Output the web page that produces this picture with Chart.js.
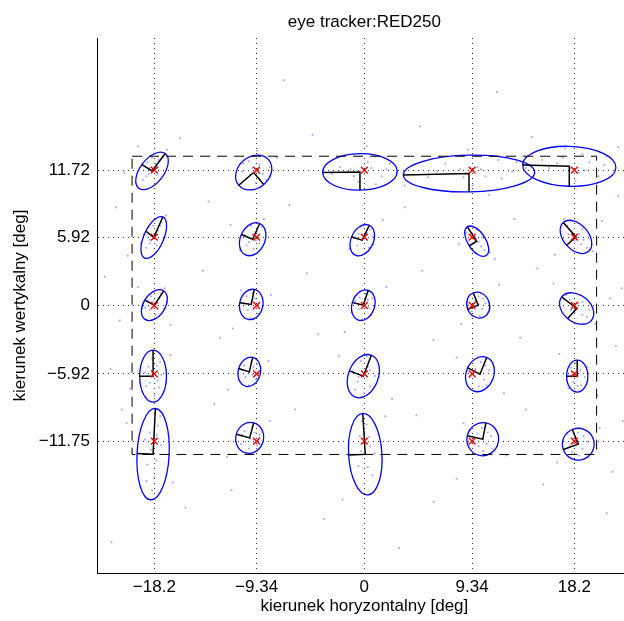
<!DOCTYPE html>
<html>
<head>
<meta charset="utf-8">
<script src="https://cdn.jsdelivr.net/npm/chart.js@4"></script>
<style>
  html, body { margin: 0; padding: 0; background: #fff; overflow: hidden; }
  #wrap { width: 624px; height: 621px; overflow: hidden; }
</style>
</head>
<body>
<div id="wrap"><canvas id="c" width="640" height="621"></canvas></div>
<script>
// target grid (deg)
const xTicks = [-18.2, -9.34, 0, 9.34, 18.2];
const yTicks = [11.72, 5.92, 0, -5.92, -11.75];
const xTickLabels = ['\u221218.2', '\u22129.34', '0', '9.34', '18.2'];
const yTickLabels = ['11.72', '5.92', '0', '\u22125.92', '\u221211.75'];

// dashed frame
const frameX = [-20.13, 20.13];
const frameY = [-12.9, 12.93];

// fitted ellipses: centre and the ends of the two drawn half-axes
const ellipseCenters = [
  [-18.40, 11.66], [-9.59, 11.52], [-0.38, 11.57], [9.07, 11.43], [17.76, 12.06],
  [-18.25, 5.89], [-9.68, 5.74], [-0.18, 5.66], [9.74, 5.57], [18.34, 5.94],
  [-18.20, 0.03], [-9.80, 0.09], [-0.09, 0.03], [9.87, 0.03], [18.40, -0.26],
  [-18.31, -6.12], [-9.97, -5.75], [-0.09, -6.12], [10.02, -5.95], [18.45, -6.12],
  [-18.31, -12.88], [-9.94, -11.47], [0.08, -12.88], [10.26, -11.58], [18.54, -12.01]
];
const axisEndA = [
  [-17.25, 13.16], [-10.89, 10.42], [-3.61, 11.52], [3.38, 11.31], [13.72, 12.18],
  [-17.47, 7.67], [-9.07, 7.10], [0.43, 6.95], [8.92, 6.81], [17.24, 7.19],
  [-17.39, 1.26], [-9.54, 1.39], [0.34, 1.32], [9.44, 1.09], [17.10, 0.74],
  [-18.31, -3.87], [-9.68, -4.50], [0.61, -4.31], [10.60, -4.50], [18.45, -4.74],
  [-18.11, -8.92], [-9.59, -10.17], [-0.14, -9.35], [10.54, -10.17], [18.02, -10.74]
];
const axisEndB = [
  [-19.27, 12.21], [-8.72, 10.48], [-0.38, 9.99], [9.07, 9.84], [17.76, 10.33],
  [-18.92, 6.43], [-10.66, 6.15], [-1.10, 5.94], [9.09, 5.16], [17.53, 5.22],
  [-19.03, 0.46], [-10.80, 0.23], [-1.04, 0.26], [8.96, -0.32], [17.62, -1.13],
  [-19.47, -6.12], [-10.89, -5.46], [-1.30, -5.66], [8.96, -5.40], [17.53, -6.12],
  [-19.70, -12.82], [-11.10, -11.15], [-1.36, -12.96], [8.92, -11.29], [17.24, -12.47]
];

// raw gaze samples (approximate)
const gazePoints = [
  [-18.9,11.2],[-18.1,12.3],[-17.8,12.6],[-18.6,11.9],[-19.2,10.9],[-18.0,11.3],[-17.5,12.9],[-18.8,12.4],[-19.6,13.8],[-20.8,11.5],
  [-18.3,11.8],[-17.9,12.0],[-18.7,11.4],[-18.4,12.8],[-17.1,13.5],
  [-9.1,12.2],[-10.2,11.0],[-9.4,10.6],[-8.8,11.4],[-10.0,12.5],[-9.7,11.9],[-8.5,10.9],[-10.6,11.6],[-9.3,13.4],[-7.6,12.8],
  [-9.9,11.3],[-9.2,11.8],[-10.5,12.3],[-9.0,10.2],[-8.2,12.0],
  [0.6,11.9],[1.5,11.2],[-1.2,11.8],[0.3,12.4],[2.2,12.3],[-0.5,10.7],[1.0,10.5],[-2.1,12.0],[0.2,13.8],[3.5,10.4],
  [-0.9,11.2],[1.9,11.8],[-2.8,11.4],[0.9,12.9],[2.8,11.5],
  [9.8,12.0],[10.5,11.2],[8.3,11.8],[7.0,12.3],[11.6,12.6],[9.4,10.4],[5.5,11.1],[12.8,11.6],[9.0,13.5],[10.8,9.6],[14.0,11.9],
  [8.6,11.1],[10.1,11.8],[6.3,11.6],[11.9,11.0],[13.2,12.4],
  [18.6,11.5],[19.5,12.4],[17.2,12.8],[16.0,11.9],[20.3,11.2],[18.9,13.1],[15.4,12.6],[21.0,12.9],[18.3,10.8],[22.0,13.7],
  [17.9,11.9],[19.1,11.7],[16.7,12.3],[20.8,12.2],[17.4,13.6],
  [-18.6,5.4],[-17.9,6.5],[-18.3,6.9],[-17.6,7.2],[-18.9,5.0],[-18.0,5.2],[-19.1,6.2],[-17.4,5.8],[-20.5,4.3],
  [-18.2,6.1],[-17.7,6.9],[-18.6,5.7],[-17.2,7.8],[-19.4,5.4],
  [-9.3,6.4],[-10.2,5.2],[-9.8,6.9],[-9.1,5.4],[-10.4,6.1],[-9.6,4.9],[-8.9,6.8],[-11.6,7.0],
  [-9.7,6.1],[-9.4,5.6],[-10.0,5.5],[-8.7,7.5],[-10.8,4.8],
  [0.2,6.3],[-0.6,5.2],[0.4,5.0],[-0.3,6.8],[0.7,6.0],[-0.9,5.9],[0.1,4.6],[1.6,7.4],
  [-0.1,5.9],[0.5,6.6],[-0.5,6.2],[0.8,5.3],[-1.3,4.9],
  [9.3,6.3],[10.1,5.1],[9.6,6.0],[10.4,4.8],[9.0,6.8],[9.9,5.5],[11.3,4.0],[8.2,5.3],
  [9.7,5.8],[9.4,5.4],[10.2,5.9],[8.8,6.3],[10.9,4.6],
  [18.8,5.3],[17.9,6.5],[18.6,6.2],[19.3,5.0],[17.6,6.9],[18.2,5.6],[19.8,4.7],[20.6,7.3],[16.5,4.4],
  [18.4,5.9],[17.7,6.2],[19.0,5.7],[18.9,6.6],[17.3,7.5],
  [-18.6,-0.4],[-17.8,0.7],[-18.3,0.3],[-19.0,-0.2],[-17.6,1.0],[-18.1,-0.8],[-19.6,1.6],[-21.2,-1.3],[-16.8,-1.7],
  [-18.2,0.1],[-18.5,0.8],[-17.9,-0.3],[-18.8,0.4],[-17.3,1.5],
  [-9.5,0.6],[-10.1,-0.4],[-9.7,1.1],[-10.4,0.2],[-9.2,-0.7],[-9.9,-1.1],[-8.1,0.9],[-11.4,-2.0],
  [-9.8,0.3],[-9.4,0.1],[-10.2,0.8],[-9.6,-0.3],[-10.7,1.3],
  [0.3,0.5],[-0.5,-0.3],[0.1,1.0],[-0.8,0.4],[0.6,-0.8],[-0.2,-1.2],[1.9,1.6],[-1.7,-2.3],
  [-0.1,0.2],[0.4,-0.2],[-0.4,0.7],[0.7,0.6],[-1.1,-0.6],
  [9.6,0.4],[10.2,-0.3],[9.9,0.8],[10.5,0.2],[9.3,-0.5],[10.0,-0.9],[11.7,1.8],[8.4,-1.6],
  [9.9,0.1],[10.3,0.6],[9.5,-0.1],[10.7,-0.6],[9.1,0.9],
  [18.9,-0.8],[17.8,0.5],[18.5,0.2],[19.3,-1.0],[17.5,0.9],[18.2,-0.6],[20.0,-1.6],[16.4,1.9],[21.3,0.6],
  [18.4,-0.2],[18.9,0.3],[17.9,-0.4],[19.5,-0.4],[18.7,0.9],
  [-18.0,-5.2],[-18.6,-6.7],[-17.8,-7.1],[-18.4,-4.6],[-19.0,-5.8],[-17.6,-6.0],[-18.2,-7.8],[-20.3,-7.2],[-16.8,-4.3],
  [-18.3,-6.0],[-18.7,-5.3],[-17.9,-6.5],[-18.9,-7.0],[-17.7,-4.9],
  [-9.6,-5.3],[-10.3,-6.2],[-9.8,-4.9],[-10.6,-5.6],[-9.4,-6.4],[-10.0,-6.9],[-8.3,-4.8],[-11.8,-7.3],
  [-10.0,-5.8],[-9.7,-6.0],[-10.4,-5.2],[-9.3,-5.1],[-10.9,-6.5],
  [0.3,-5.3],[-0.6,-6.6],[0.5,-7.0],[-0.3,-4.8],[0.9,-6.1],[-1.0,-5.7],[0.0,-7.6],[-2.2,-4.4],[2.4,-8.1],
  [-0.1,-6.1],[0.5,-5.6],[-0.5,-6.2],[0.2,-4.4],[-0.8,-7.3],
  [9.6,-5.5],[10.4,-6.4],[10.1,-4.9],[9.2,-6.2],[10.8,-5.6],[9.9,-7.0],[8.0,-4.5],[12.1,-7.6],
  [10.0,-5.9],[10.5,-5.2],[9.5,-5.8],[10.6,-6.9],[9.0,-5.3],
  [18.7,-5.6],[18.1,-6.6],[18.5,-7.0],[19.1,-6.2],[17.9,-5.4],[18.3,-5.0],[20.2,-7.8],[16.9,-4.2],
  [18.5,-6.1],[18.8,-6.9],[18.0,-6.0],[19.3,-5.3],[17.7,-7.2],
  [-18.0,-11.2],[-18.5,-12.5],[-17.9,-10.4],[-18.8,-13.8],[-18.2,-14.9],[-17.6,-12.1],[-19.0,-11.6],[-18.4,-16.0],[-20.6,-10.2],[-16.6,-15.3],
  [-18.3,-12.9],[-18.6,-11.0],[-18.0,-13.4],[-17.7,-9.6],[-18.9,-15.2],
  [-9.5,-11.0],[-10.3,-11.8],[-9.7,-10.5],[-10.6,-11.2],[-9.3,-12.1],[-10.0,-12.4],[-8.2,-10.0],[-11.9,-13.1],
  [-9.9,-11.5],[-9.6,-11.6],[-10.4,-10.9],[-9.1,-11.2],[-10.7,-12.0],
  [0.4,-11.4],[-0.3,-12.6],[0.2,-10.3],[-0.5,-13.9],[0.7,-14.7],[-0.1,-11.9],[0.9,-12.8],[-0.6,-15.8],[1.8,-9.6],[-1.9,-16.8],
  [0.1,-12.9],[0.5,-12.2],[-0.4,-11.3],[0.3,-14.0],[-0.2,-10.0],
  [9.8,-11.1],[10.6,-12.0],[10.2,-10.6],[9.4,-11.9],[11.0,-11.3],[10.3,-12.6],[8.6,-10.2],[12.3,-13.0],
  [10.3,-11.6],[10.7,-11.0],[9.9,-12.2],[11.1,-12.4],[9.2,-10.8],
  [18.2,-11.5],[18.9,-12.4],[18.5,-11.0],[17.8,-12.2],[19.3,-11.8],[18.6,-13.0],[20.4,-10.6],[16.7,-13.6],[21.5,-14.4],
  [18.5,-12.0],[19.0,-11.3],[18.0,-12.7],[19.4,-12.9],[17.6,-11.1],
  [-21.5,8.5],[-13.5,9.0],[-4.5,14.8],[4.8,15.5],[14.5,14.6],[22.0,9.5],[-22.5,2.5],[-14.0,3.0],[-4.0,-2.5],[5.0,3.0],
  [13.5,-2.8],[21.8,-3.5],[-21.0,-9.0],[-13.0,-8.5],[4.5,-9.5],[14.0,-9.0],[-15.5,-17.5],[-3.5,-18.5],[6.0,-17.0],
  [21.0,-18.0],[-21.9,-20.5],[-7.0,19.5],[11.5,18.5],[3.0,-21.0],
  [-16.0,14.5],[-6.5,8.7],[3.5,8.5],[13.0,7.5],[22.3,1.5],[-12.5,-2.8],[-5.0,2.8],[6.0,-3.0],[15.0,3.2],[-22.0,-5.5],
  [-6.0,-9.0],[8.0,-15.0],[15.5,-15.5],[-11.5,-16.0],[22.4,-10.0]
];

const AX_MIN = -23.17, AX_MAX = 23.17;

const targets = [];
yTicks.forEach(ty => xTicks.forEach(tx => targets.push({ x: tx, y: ty })));

const axisLines = [];
ellipseCenters.forEach((c, i) => {
  axisLines.push({ x: axisEndA[i][0], y: axisEndA[i][1] });
  axisLines.push({ x: c[0], y: c[1] });
  axisLines.push({ x: axisEndB[i][0], y: axisEndB[i][1] });
  axisLines.push({ x: c[0], y: null });
});

const frame = [
  { x: frameX[0], y: frameY[1] }, { x: frameX[1], y: frameY[1] },
  { x: frameX[1], y: frameY[0] }, { x: frameX[0], y: frameY[0] },
  { x: frameX[0], y: frameY[1] }
];

// ellipses drawn right after the gaze samples
const ellipsePlugin = {
  id: 'ellipses',
  afterDatasetDraw(chart, args) {
    if (args.index !== 0) return;
    const { ctx, chartArea, scales: { x, y } } = chart;
    ctx.save();
    ctx.beginPath();
    ctx.rect(chartArea.left, chartArea.top, chartArea.right - chartArea.left, chartArea.bottom - chartArea.top);
    ctx.clip();
    ctx.strokeStyle = '#0000ff';
    ctx.lineWidth = 1.3;
    ellipseCenters.forEach((c, i) => {
      const cx = x.getPixelForValue(c[0]);
      const cy = y.getPixelForValue(c[1]);
      const ax = x.getPixelForValue(axisEndA[i][0]) - cx;
      const ay = y.getPixelForValue(axisEndA[i][1]) - cy;
      const bx = x.getPixelForValue(axisEndB[i][0]) - cx;
      const by = y.getPixelForValue(axisEndB[i][1]) - cy;
      ctx.beginPath();
      ctx.ellipse(cx, cy, Math.hypot(ax, ay), Math.hypot(bx, by), Math.atan2(ay, ax), 0, Math.PI * 2);
      ctx.stroke();
    });
    ctx.restore();
  }
};

Chart.defaults.font.family = "'Liberation Sans', Arial, sans-serif";
Chart.defaults.font.size = 17;
Chart.defaults.color = '#000';

new Chart(document.getElementById('c'), {
  type: 'scatter',
  data: {
    datasets: [
      {
        data: gazePoints.map(p => ({ x: p[0], y: p[1] })),
        pointRadius: 1,
        pointBorderWidth: 0,
        pointBackgroundColor: 'rgba(70,70,255,0.5)',
        order: 5
      },
      {
        data: frame,
        showLine: true,
        borderColor: '#000',
        borderWidth: 1,
        borderDash: [10, 7],
        pointRadius: 0,
        order: 4
      },
      {
        data: axisLines,
        showLine: true,
        spanGaps: false,
        borderColor: '#000',
        borderWidth: 1.5,
        pointRadius: 0,
        order: 2
      },
      {
        data: targets,
        pointStyle: 'crossRot',
        pointRadius: 4.8,
        pointBorderColor: '#ff0000',
        pointBorderWidth: 1.4,
        order: 1
      }
    ]
  },
  options: {
    responsive: false,
    devicePixelRatio: 1,
    animation: false,
    layout: { padding: { left: 0, right: 8.3, top: 0, bottom: 0 } },
    plugins: {
      legend: { display: false },
      tooltip: { enabled: false },
      title: {
        display: true,
        fullSize: false,
        text: 'eye tracker:RED250',
        color: '#000',
        font: { size: 17, weight: 'normal' },
        padding: { top: 11.8, bottom: 5.8 }
      }
    },
    scales: {
      x: {
        type: 'linear',
        min: AX_MIN,
        max: AX_MAX,
        afterBuildTicks: axis => { axis.ticks = xTicks.map(v => ({ value: v })); },
        afterFit: axis => { axis.height = 48; },
        ticks: {
          autoSkip: false,
          maxRotation: 0,
          padding: 4,
          callback: (v, i) => xTickLabels[i]
        },
        grid: { color: '#333', lineWidth: 1, drawTicks: false },
        border: { display: true, color: '#000', width: 1, dash: [1, 4] },
        title: {
          display: true,
          text: 'kierunek horyzontalny [deg]',
          font: { size: 17 },
          padding: { top: 0, bottom: 4.8 }
        }
      },
      y: {
        type: 'linear',
        min: AX_MIN,
        max: AX_MAX,
        afterBuildTicks: axis => { axis.ticks = yTicks.map(v => ({ value: v })); },
        afterFit: axis => { axis.width = 97; },
        ticks: {
          autoSkip: false,
          padding: 7,
          callback: (v, i) => yTickLabels[i]
        },
        grid: { color: '#333', lineWidth: 1, drawTicks: false },
        border: { display: true, color: '#000', width: 1, dash: [1, 4] },
        title: {
          display: true,
          text: 'kierunek wertykalny [deg]',
          font: { size: 17 },
          padding: { top: 9.8, bottom: 0 }
        }
      }
    }
  },
  plugins: [ellipsePlugin]
});
</script>
</body>
</html>
